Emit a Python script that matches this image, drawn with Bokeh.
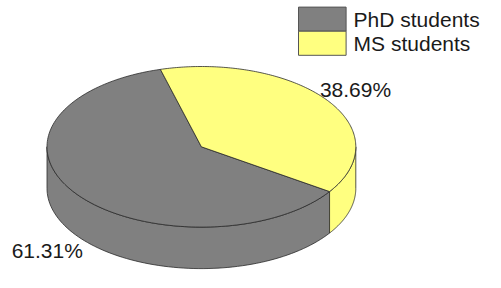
import numpy as np
from bokeh.plotting import figure
from bokeh.models import Range1d
from bokeh.core.properties import value
from bokeh.embed import file_html
from bokeh.resources import INLINE

# ---- data ----
categories = ["PhD students", "MS students"]
shares = [61.31, 38.69]
pct_labels = ["61.31%", "38.69%"]
colors = ["#808080", "#ffff80"]

# ---- layout (pixel space of the figure) ----
W, H = 485, 272
cx, cy = 200.9, 146.3
a, b = 154.4, 80.3
depth = 41.5
start_deg = 105.4
edge = "#2b2b2b"

p = figure(width=W, height=H, output_backend="svg", toolbar_location=None,
           x_range=Range1d(0, W), y_range=Range1d(H, 0), min_border=0)
p.axis.visible = False
p.grid.visible = False
p.outline_line_color = None
p.background_fill_color = "white"

total = sum(shares)
angles = []
t = start_deg
for s in shares:
    span = 360.0 * s / total
    angles.append((t, t + span))
    t += span

def ell(tdeg, dy=0.0):
    r = np.radians(tdeg)
    return cx + a * np.cos(r), cy - b * np.sin(r) + dy

# side walls (visible front half: 180..360 deg, modulo 360)
side_xs, side_ys, side_cols = [], [], []
for (t0, t1), c in zip(angles, colors):
    for lo, hi in [(180, 360), (540, 720)]:
        s0, s1 = max(t0, lo), min(t1, hi)
        if s1 > s0:
            ts = np.linspace(s0, s1, 80)
            tx, ty = ell(ts)
            bx, by = ell(ts[::-1], depth)
            side_xs.append(list(np.concatenate([tx, bx])))
            side_ys.append(list(np.concatenate([ty, by])))
            side_cols.append(c)
p.patches(side_xs, side_ys, fill_color=side_cols, line_color=edge, line_width=0.8)

# top faces
top_xs, top_ys = [], []
for (t0, t1) in angles:
    ts = np.linspace(t0, t1, 160)
    tx, ty = ell(ts)
    top_xs.append([cx] + list(tx) + [cx])
    top_ys.append([cy] + list(ty) + [cy])
p.patches(top_xs, top_ys, fill_color=colors, line_color=edge, line_width=0.8)

# percentage labels
lx, ly = [], []
for (t0, t1) in angles:
    m = np.radians((t0 + t1) / 2)
    x = cx + 1.23 * a * np.cos(m)
    y = cy - 1.23 * b * np.sin(m)
    if np.sin(m) < 0:
        y += depth + 4.5
    lx.append(x)
    ly.append(y)
p.text(lx, ly, text=pct_labels, text_font=value("Liberation Sans"),
       text_font_size="21px", text_align="center", text_baseline="middle",
       text_color="#1a1a1a")

# legend
box_l, box_r, box_top, box_h = 298, 345.6, 6.6, 24.1
idx = np.arange(len(categories))
p.quad(left=box_l, right=box_r, top=box_top + idx * box_h,
       bottom=box_top + (idx + 1) * box_h, fill_color=colors,
       line_color="#555555", line_width=1)
p.text(x=[box_r + 7.5] * len(categories), y=list(box_top + (idx + 0.5) * box_h),
       text=categories, text_font=value("Liberation Sans"),
       text_font_size="21px", text_align="left", text_baseline="middle",
       text_color="#1a1a1a")

open("out.html", "w").write(file_html(p, INLINE))
